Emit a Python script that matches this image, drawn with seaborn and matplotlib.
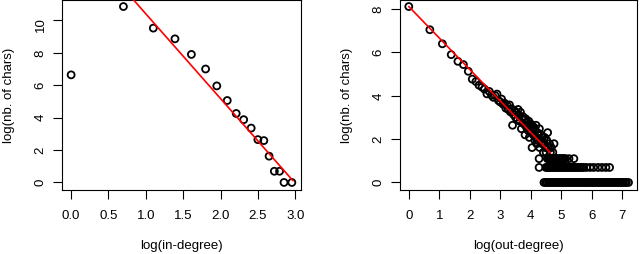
import numpy as np
import pandas as pd
import seaborn as sns
import matplotlib
matplotlib.use("Agg")
import matplotlib.pyplot as plt

# log(in-degree) vs log(nb. of chars)
in_x = [0.00, 0.70, 1.10, 1.39, 1.61, 1.80, 1.95, 2.09, 2.21, 2.31, 2.41, 2.50, 2.58,
        2.65, 2.72, 2.79, 2.85, 2.955]
in_y = [6.63, 10.84, 9.51, 8.85, 7.89, 6.99, 5.95, 5.05, 4.25, 3.87, 3.35, 2.64, 2.58,
        1.62, 0.69, 0.69, 0.00, 0.00]
in_fit = (15.61, -5.22)       # intercept, slope
in_fit_x = [0.70, 2.97]

# log(out-degree) vs log(nb. of chars): main cloud
out_x = [0.00, 0.69, 1.10, 1.39, 1.61, 1.79, 1.95, 2.08, 2.20, 2.30, 2.40,
         2.48, 2.56, 2.64, 2.71, 2.77, 2.83, 2.89, 2.94, 3.00, 3.04, 3.09, 3.14,
         3.18, 3.22, 3.26, 3.30, 3.33, 3.37, 3.40, 3.43, 3.47, 3.50, 3.53, 3.56,
         3.58, 3.61, 3.64, 3.66, 3.69, 3.71, 3.74, 3.76, 3.78, 3.81, 3.83, 3.85,
         3.87, 3.89, 3.91, 3.93, 3.95, 3.97, 3.99, 4.01, 4.03, 4.04, 4.06, 4.08,
         4.09, 4.13, 4.14, 4.16, 4.17, 4.19, 4.22, 4.23, 4.25, 4.28, 4.29, 4.32,
         4.33, 4.36, 4.38, 4.41, 4.43, 4.45, 4.48, 4.50, 4.52, 4.55, 4.57, 4.61,
         4.64, 4.67, 4.72, 4.76]
out_y = [8.12, 7.05, 6.40, 5.90, 5.59, 5.44, 5.13, 4.77, 4.66, 4.49, 4.40,
         4.31, 4.09, 4.20, 4.03, 3.93, 4.01, 4.08, 3.78, 3.71, 3.85, 3.61, 3.66,
         3.43, 3.56, 3.37, 3.58, 3.26, 3.40, 2.64, 3.14, 3.30, 3.00, 3.22, 2.89,
         3.37, 3.09, 2.83, 3.24, 2.48, 2.94, 3.04, 2.71, 2.89, 2.20, 2.94, 2.56,
         2.77, 2.64, 2.40, 2.83, 2.08, 2.56, 2.71, 2.30, 2.64, 1.61, 2.48, 2.20,
         2.56, 1.95, 2.40, 2.08, 2.64, 1.79, 2.30, 1.95, 2.20, 2.48, 1.61, 1.95,
         2.20, 1.79, 2.08, 1.39, 1.79, 2.08, 1.61, 1.39, 1.95, 2.30, 1.61, 1.79,
         1.39, 1.61, 1.39, 1.79]
# rows of small counts (3, 2 and 1 chars)
row3_x = [4.27, 4.54, 4.58, 4.62, 4.66, 4.70, 4.74, 4.78, 4.82, 4.86, 4.90, 4.94,
          4.98, 5.02, 5.06, 5.10, 5.14, 5.25, 5.41]
row2_x = [4.27, 4.49, 4.53, 4.57, 4.61, 4.65, 4.70, 4.74, 4.78, 4.83, 4.87, 4.92,
          4.96, 5.01, 5.05, 5.10, 5.14, 5.19, 5.23, 5.28, 5.33, 5.38, 5.43, 5.48,
          5.53, 5.58, 5.63, 5.68, 5.73, 5.82, 5.94, 6.06, 6.20, 6.33, 6.46, 6.58]
row1_x = [4.43, 4.48, 4.53, 4.58, 4.63, 4.68, 4.73, 4.78, 4.83, 4.88, 4.93, 4.98,
          5.03, 5.08, 5.13, 5.18, 5.23, 5.28, 5.33, 5.38, 5.43, 5.48, 5.53, 5.58,
          5.63, 5.68, 5.73, 5.78, 5.83, 5.88, 5.93, 5.98, 6.03, 6.08, 6.13, 6.18,
          6.23, 6.28, 6.33, 6.38, 6.43, 6.48, 6.53, 6.58, 6.63, 6.68, 6.73, 6.78,
          6.83, 6.88, 6.93, 6.98, 7.03, 7.08, 7.13, 7.20]
out_fit = (8.12, -1.454)
out_fit_x = [0.00, 4.65]

df_in = pd.DataFrame({"x": in_x, "y": in_y})
df_out = pd.DataFrame({
    "x": out_x + row3_x + row2_x + row1_x,
    "y": out_y + [np.log(3)] * len(row3_x) + [np.log(2)] * len(row2_x) + [0.0] * len(row1_x),
})


def fit_frame(fit, xs):
    xs = np.array(xs)
    return pd.DataFrame({"x": xs, "y": fit[0] + fit[1] * xs})


def r_lim(v):
    lo, hi = min(v), max(v)
    pad = 0.04 * (hi - lo)
    return lo - pad, hi + pad


sns.set_theme(style="ticks")
plt.rcParams['font.family'] = ['Liberation Sans', 'DejaVu Sans']

fig = plt.figure(figsize=(6.4, 2.55), dpi=100)
ax1 = fig.add_axes([62.3 / 640, 64.5 / 255, 238.4 / 640, 190 / 255])
ax2 = fig.add_axes([400 / 640, 64.5 / 255, 237.3 / 640, 190 / 255])

panels = [
    (ax1, df_in, in_fit, in_fit_x, "log(in-degree)", np.arange(0, 3.01, 0.5), "{:.1f}", np.arange(0, 11, 2)),
    (ax2, df_out, out_fit, out_fit_x, "log(out-degree)", np.arange(0, 8), "{:.0f}", np.arange(0, 9, 2)),
]

for ax, df, fit, fx, xlab, xt, fmt, yt in panels:
    sns.scatterplot(data=df, x="x", y="y", ax=ax, marker="o", s=25,
                    facecolors="none", edgecolor="black", linewidth=1.3, zorder=2)
    sns.lineplot(data=fit_frame(fit, fx), x="x", y="y", ax=ax, color="red",
                 linewidth=1.2, zorder=3)
    ax.set_xlim(r_lim(df["x"]))
    ax.set_ylim(r_lim(df["y"]))
    ax.set_xticks(xt)
    ax.set_xticklabels([fmt.format(v) for v in xt])
    ax.set_yticks(yt)
    ax.set_yticklabels([str(v) for v in yt])
    ax.tick_params(direction="out", length=6.3, width=0.8, color="black",
                   labelsize=9.5, labelcolor="black")
    ax.tick_params(axis="x", pad=8)
    ax.tick_params(axis="y", pad=5, labelrotation=90)
    for s in ax.spines.values():
        s.set_visible(True)
        s.set_linewidth(0.8)
        s.set_color("black")
    ax.set_xlabel(xlab, fontsize=9.5, color="black")
    ax.set_ylabel("log(nb. of chars)", fontsize=9.5, color="black")
    ax.xaxis.set_label_coords(0.5, -(246 - 190.5) / 190)
    ax.xaxis.label.set_va("center")
    ax.yaxis.set_label_coords(-53 / 238, 0.5)
    ax.yaxis.label.set_va("center")

fig.savefig("out.png", dpi=100)
